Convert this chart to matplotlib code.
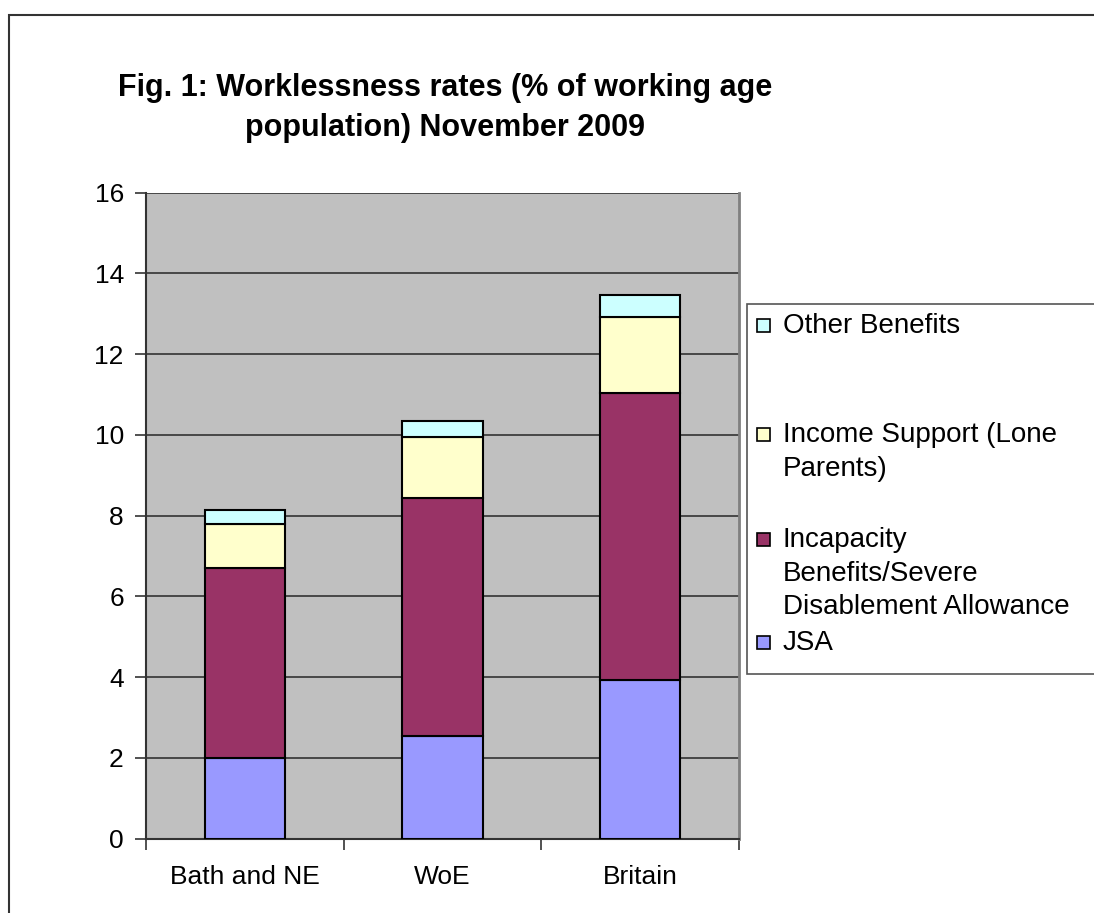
import matplotlib
matplotlib.use("Agg")
import matplotlib.pyplot as plt
from matplotlib.patches import Rectangle
import numpy as np

categories = ["Bath and NE", "WoE", "Britain"]
series_names = ["JSA", "Incapacity\nBenefits/Severe\nDisablement Allowance",
                "Income Support (Lone\nParents)", "Other Benefits"]
jsa = [2.0, 2.55, 3.93]
incapacity = [4.7, 5.9, 7.1]
income_support = [1.1, 1.5, 1.88]
other = [0.35, 0.4, 0.56]
series_values = [jsa, incapacity, income_support, other]
colors = ["#9999FF", "#993366", "#FFFFCC", "#CCFFFF"]
yticks = [0, 2, 4, 6, 8, 10, 12, 14, 16]

plt.rcParams['font.family'] = ['Liberation Sans', 'DejaVu Sans']

W, H = 1094, 913
fig = plt.figure(figsize=(W / 100, H / 100), dpi=100)

def fx(px):
    return px / W

def fy(py):
    return 1 - py / H

# outer chart border
fig.patches.append(Rectangle((fx(9), fy(913 + 5)), fx(1094 + 10 - 9), fy(15) - fy(918),
                             transform=fig.transFigure, fill=False,
                             edgecolor="#333333", linewidth=1.5))

ax = fig.add_axes([fx(146), fy(838.7), fx(739) - fx(146), fy(192.7) - fy(838.7)])
ax.set_facecolor("#C0C0C0")
x = np.arange(len(categories))
bottom = np.zeros(len(categories))
for vals, c in zip(series_values, colors):
    ax.bar(x, vals, width=0.405, bottom=bottom, color=c, edgecolor="black",
           linewidth=1.5, zorder=3)
    bottom += np.array(vals)

ax.set_xlim(-0.5, 2.5)
ax.set_ylim(0, 16)
ax.set_yticks(yticks)
ax.set_yticklabels([str(t) for t in yticks], fontsize=19)
ax.yaxis.grid(True, color="#333333", linewidth=1.2, zorder=1)
ax.set_axisbelow(True)

# category labels, ticks at boundaries
ax.set_xticks(x)
ax.set_xticklabels(categories, fontsize=19)
ax.tick_params(axis='x', length=0, pad=19)
ax.set_xticks([-0.5, 0.5, 1.5, 2.5], minor=True)
ax.tick_params(axis='x', which='minor', length=8, width=1.2, color="#333333")
ax.tick_params(axis='y', length=8, width=1.2, color="#333333", pad=8)

for s in ["left", "bottom"]:
    ax.spines[s].set_color("#333333")
    ax.spines[s].set_linewidth(1.5)
ax.spines["top"].set_visible(False)
ax.spines["right"].set_color("#808080")
ax.spines["right"].set_linewidth(2)

# title
fig.text(fx(445), fy(88), "Fig. 1: Worklessness rates (% of working age",
         ha="center", va="center", fontsize=22, fontweight="bold")
fig.text(fx(445), fy(128), "population) November 2009",
         ha="center", va="center", fontsize=22, fontweight="bold")

# legend box
fig.patches.append(Rectangle((fx(747), fy(674)), fx(1094 + 10) - fx(747), fy(304) - fy(674),
                             transform=fig.transFigure, fill=True, facecolor="white",
                             edgecolor="#555555", linewidth=1.2))
legend_rows = [324, 433, 538, 641]
order = [3, 2, 1, 0]
for row, idx in zip(legend_rows, order):
    fig.patches.append(Rectangle((fx(757), fy(row + 8)), fx(13), fy(row - 5) - fy(row + 8),
                                 transform=fig.transFigure, facecolor=colors[idx],
                                 edgecolor="black", linewidth=1.2))
    fig.text(fx(783), fy(row - 11), series_names[idx], ha="left", va="top",
             fontsize=20, linespacing=1.38)

fig.savefig("out.png", dpi=100)
